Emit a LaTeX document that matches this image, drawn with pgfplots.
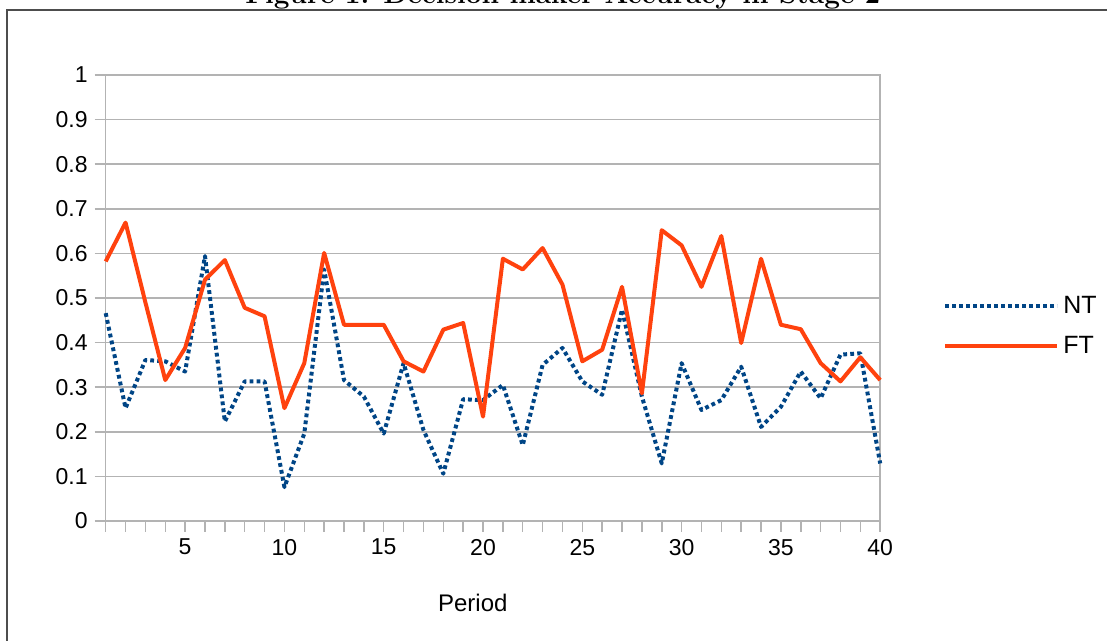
\documentclass[border=0pt]{standalone}
\usepackage{fontspec}
\usepackage{pgfplots}
\pgfplotsset{compat=1.18}
\newfontfamily\arial{Liberation Sans}
\definecolor{ntblue}{HTML}{004586}
\definecolor{ftorange}{HTML}{FF420E}
\definecolor{gridgray}{HTML}{B3B3B3}
\definecolor{framegray}{HTML}{4D4D4D}

% accuracy per period, no-treatment (NT) and feedback-treatment (FT)
\pgfplotstableread{
period NT FT
1  0.466 0.582
2  0.253 0.669
3  0.361 0.490
4  0.358 0.316
5  0.335 0.388
6  0.594 0.541
7  0.223 0.585
8  0.313 0.478
9  0.313 0.459
10 0.076 0.253
11 0.196 0.354
12 0.564 0.601
13 0.316 0.440
14 0.279 0.440
15 0.196 0.440
16 0.354 0.358
17 0.204 0.335
18 0.106 0.429
19 0.273 0.444
20 0.271 0.234
21 0.305 0.588
22 0.170 0.564
23 0.350 0.612
24 0.388 0.530
25 0.313 0.358
26 0.283 0.384
27 0.474 0.525
28 0.279 0.286
29 0.129 0.652
30 0.354 0.618
31 0.249 0.525
32 0.271 0.639
33 0.346 0.399
34 0.211 0.588
35 0.256 0.440
36 0.335 0.430
37 0.275 0.354
38 0.373 0.313
39 0.376 0.367
40 0.129 0.316
}\accdata

\begin{document}
\begin{tikzpicture}
\useasboundingbox (0,0) rectangle (553.5pt,320.5pt);
\clip (0,0) rectangle (553.5pt,320.5pt);
\node[anchor=base, font=\fontsize{14}{16}\selectfont\bfseries, inner sep=0pt]
  at (281.5pt,318.6pt) {Figure 1: Decision maker Accuracy in Stage 2};
\draw[line width=1pt, framegray] (3.5pt,-20pt) rectangle (620pt,315.25pt);

\begin{axis}[
  at={(52.85pt,60pt)}, anchor=south west,
  scale only axis, width=387.25pt, height=223pt,
  xmin=1, xmax=40, ymin=0, ymax=1,
  xtick={5,10,...,40}, minor xtick={1,...,40},
  ytick={0,0.1,0.2,0.3,0.4,0.5,0.6,0.7,0.8,0.9,1},
  yticklabels={0,0.1,0.2,0.3,0.4,0.5,0.6,0.7,0.8,0.9,1},
  tick align=outside, xtick pos=bottom, ytick pos=left,
  major tick length=5.5pt, minor tick length=5.5pt,
  every tick/.style={gridgray, line width=0.75pt},
  every minor tick/.style={gridgray, line width=0.75pt},
  axis line style={gridgray, line width=0.75pt},
  ymajorgrids,
  grid style={gridgray, line width=0.75pt},
  /pgf/number format/assume math mode=true,
  tick label style={font=\arial\fontsize{11.5}{13}\selectfont, text=black},
  xlabel={Period},
  xlabel style={font=\arial\fontsize{12}{14}\selectfont, at={(axis description cs:0.474,0)}, anchor=base, yshift=-45.3pt},
  legend style={at={(1.081,0.437)}, anchor=west, draw=none, fill=none,
    inner sep=0pt, font=\arial\fontsize{12.5}{14}\selectfont, row sep=6pt},
  legend cell align=left,
  legend image code/.code={\draw[#1] (0pt,0pt) -- (56pt,0pt);},
  clip=false,
]
\addplot[ntblue, line width=2pt, dash pattern=on 1.9pt off 1.6pt, line join=round]
  table[x=period, y=NT] {\accdata};
\addlegendentry{NT}
\addplot[ftorange, line width=2pt, line join=round]
  table[x=period, y=FT] {\accdata};
\addlegendentry{FT}
\end{axis}
\end{tikzpicture}
\end{document}
